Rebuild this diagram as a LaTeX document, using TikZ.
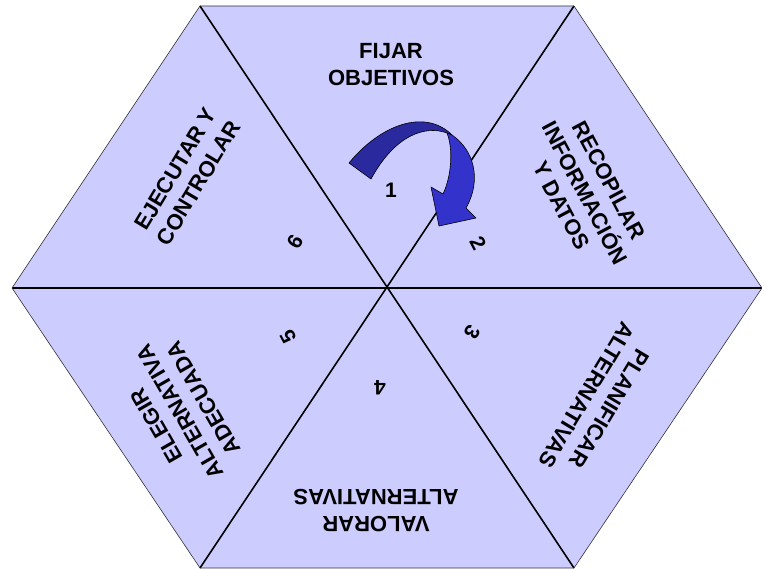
\documentclass[tikz,border=0pt]{standalone}
\usepackage{fontspec}
\setmainfont{Liberation Sans}
\definecolor{hexfill}{HTML}{CCCCFF}
\definecolor{arrdark}{HTML}{2A2A9E}
\definecolor{arrlight}{HTML}{3333CC}
\begin{document}
\begin{tikzpicture}[x=1pt,y=-1pt,
  lbl/.style={font=\bfseries\fontsize{22}{27}\selectfont, align=center, inner sep=0pt},
  num/.style={font=\bfseries\fontsize{21}{24}\selectfont, inner sep=0pt},
  spoke/.style={line width=1.6pt, black},
  hspoke/.style={line width=2.6pt, black}]
\useasboundingbox (0,0) rectangle (762,569);
% vertices
\coordinate (C) at (387,288);
\coordinate (V1) at (200,6);
\coordinate (V2) at (574,6);
\coordinate (V3) at (762,288);
\coordinate (V4) at (574,568);
\coordinate (V5) at (200,568);
\coordinate (V6) at (12,288);
\fill[hexfill] (V1) -- (V2) -- (V3) -- (V4) -- (V5) -- (V6) -- cycle;
\draw[spoke] (V1) -- (V4);
\draw[spoke] (V2) -- (V5);
\draw[hspoke] (V6) -- (V3);
\draw[line width=0.6pt, black!80] (V1) -- (V2) -- (V3) -- (V4) -- (V5) -- (V6) -- cycle;
% labels
\node[lbl] (t1) at (391,65) {FIJAR\\OBJETIVOS};
\node[lbl, rotate=-62] (t2) at (585,193) {RECOPILAR\\INFORMACIÓN\\Y DATOS};
\node[lbl, rotate=-121] (t3) at (598,402) {PLANIFICAR\\ALTERNATIVAS};
\node[lbl, rotate=180] (t4) at (376,511) {VALORAR\\ALTERNATIVAS};
\node[lbl, rotate=120] (t5) at (180,412) {ELEGIR\\ALTERNATIVA\\ADECUADA};
\node[lbl, rotate=59] (t6) at (187,176) {EJECUTAR Y\\CONTROLAR};
% numbers
\node[num] (n1) at (391,190) {1};
\node[num, rotate=-62] (n2) at (478,243) {2};
\node[num, rotate=-121] (n3) at (472,332) {3};
\node[num, rotate=180] (n4) at (380,388) {4};
\node[num, rotate=118] (n5) at (288,337) {5};
\node[num, rotate=59] (n6) at (295,242) {6};
% curved arrow
\draw[fill=arrdark, line width=0.6pt, line join=round]
  (349,163) .. controls (380,125) and (425,108) .. (452,135)
  -- (447,133) .. controls (425,125) and (395,135) .. (371,179) -- cycle;
\draw[fill=arrlight, line width=0.6pt, line join=round]
  (452,135) .. controls (474,150) and (482,180) .. (466,208)
  -- (476,218) -- (439,226) -- (431,187) -- (443,194)
  .. controls (452,175) and (453,148) .. (447,133) -- cycle;
\end{tikzpicture}
\end{document}
